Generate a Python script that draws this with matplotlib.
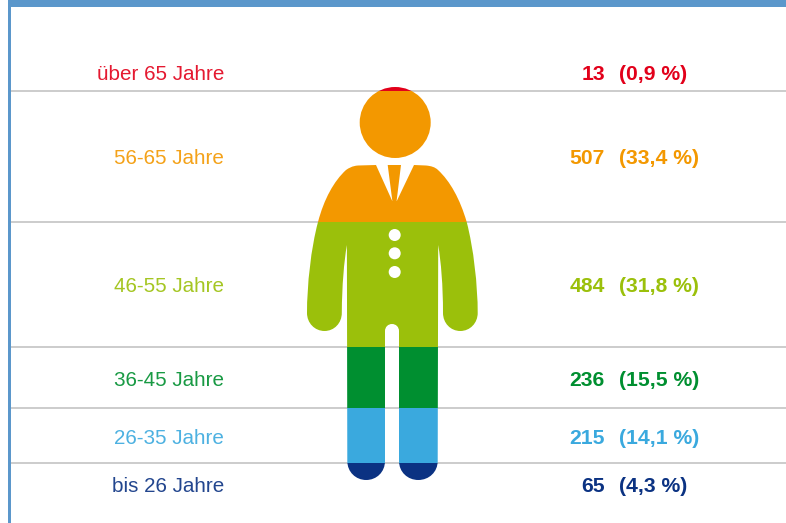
import numpy as np
import matplotlib
matplotlib.use('Agg')
import matplotlib.pyplot as plt
from matplotlib.path import Path
from matplotlib.patches import PathPatch, Circle, Rectangle

# Daten
gruppen = ['über 65 Jahre', '56-65 Jahre', '46-55 Jahre', '36-45 Jahre', '26-35 Jahre', 'bis 26 Jahre']
anzahl = [13, 507, 484, 236, 215, 65]
prozent = [0.9, 33.4, 31.8, 15.5, 14.1, 4.3]
farben = ['#e2001a', '#f39800', '#9bc00b', '#008f30', '#3aa9de', '#0b3282']

# Position der Beschriftungen (Pixel)
text_y = [74, 158, 286, 380, 438, 487]

# Figur reicht von y=87 (Kopf) bis y=480 (Fuesse)
oben = 87
hoehe = 393

fig = plt.figure(figsize=(7.86, 5.23), dpi=100)
ax = fig.add_axes([0, 0, 1, 1])
ax.set_xlim(0, 786)
ax.set_ylim(523, 0)
ax.axis('off')

# Rahmen
blau = '#5b97cb'
ax.add_patch(Rectangle((8, 0), 778, 7, color=blau, lw=0))
ax.add_patch(Rectangle((8, 0), 2.6, 523, color=blau, lw=0))

# Kontur der Figur
M, L, C = Path.MOVETO, Path.LINETO, Path.CURVE4
koerper = [
    ((376, 165), M), ((358, 165.5), L),
    ((352, 166), C), ((349, 168), C), ((346, 170), C),
    ((334, 181), C), ((324, 199), C), ((318, 222), C),
    ((311, 248), C), ((307, 285), C), ((307, 313), C),
    ((307, 323), C), ((314.7, 331), C), ((324.5, 331), C),
    ((334.3, 331), C), ((341.8, 323), C), ((341.8, 313), C),
    ((342, 285), C), ((344, 262), C), ((346.9, 245), C),
    ((347.3, 461), L),
    ((347.3, 472), C), ((355.8, 480), C), ((366.2, 480), C),
    ((376.6, 480), C), ((385, 472), C), ((385, 461), C),
    ((385, 331), L),
    ((385, 327), C), ((388, 324), C), ((392, 324), C),
    ((396, 324), C), ((399, 327), C), ((399, 331), C),
    ((399, 461), L),
    ((399, 472), C), ((407.6, 480), C), ((418.3, 480), C),
    ((429, 480), C), ((437.7, 472), C), ((437.7, 461), C),
    ((438.2, 245), L),
    ((441, 262), C), ((443, 285), C), ((443, 313), C),
    ((443, 323), C), ((450.5, 331), C), ((460.3, 331), C),
    ((470.1, 331), C), ((477.7, 323), C), ((477.7, 313), C),
    ((477.7, 285), C), ((473.5, 248), C), ((466.7, 222), C),
    ((460, 199), C), ((450, 181), C), ((438, 170), C),
    ((435, 167), C), ((431, 166), C), ((426, 165.5), C),
    ((414, 165), L), ((396.3, 202), L), ((392.7, 202), L), ((376, 165), L),
]
krawatte = [
    ((387.7, 165), M), ((393, 206), L), ((396, 206), L), ((401, 165), L), ((387.7, 165), L),
]
kopf = Path.circle((395.2, 122.5), 35.5)
figur = Path.make_compound_path(
    Path([p for p, c in koerper], [c for p, c in koerper]),
    Path([p for p, c in krawatte], [c for p, c in krawatte]),
    kopf,
)
umriss = PathPatch(figur, facecolor='none', edgecolor='none', lw=0)
ax.add_patch(umriss)

# Farbbaender aus den Prozentwerten, auf die Figur beschnitten
grenzen = oben + np.cumsum([0] + prozent) / 100 * hoehe
balken = ax.bar(392, np.diff(grenzen), width=200, bottom=grenzen[:-1], color=farben, lw=0, zorder=2)
for b in balken:
    b.set_clip_path(umriss)

# Linien zwischen den Gruppen
ax.hlines(grenzen[1:-1], 10.6, 786, color='#c4c4c4', lw=1.2, zorder=1)

# Knoepfe
for y in [235, 253.3, 272]:
    ax.add_patch(Circle((394.7, y), 6, color='white', lw=0, zorder=3))

# Beschriftung
for i in range(len(gruppen)):
    ax.text(224, text_y[i], gruppen[i], color=farben[i], fontsize=14.9, family='Liberation Sans',
            alpha=0.9, ha='right', va='center')
    ax.text(605, text_y[i], str(anzahl[i]), color=farben[i], fontsize=15.2, family='Liberation Sans',
            weight='bold', ha='right', va='center')
    ax.text(619, text_y[i], '(' + str(prozent[i]).replace('.', ',') + ' %)', color=farben[i], fontsize=15.2,
            family='Liberation Sans', weight='bold', ha='left', va='center')

fig.savefig('out.png', dpi=100)
